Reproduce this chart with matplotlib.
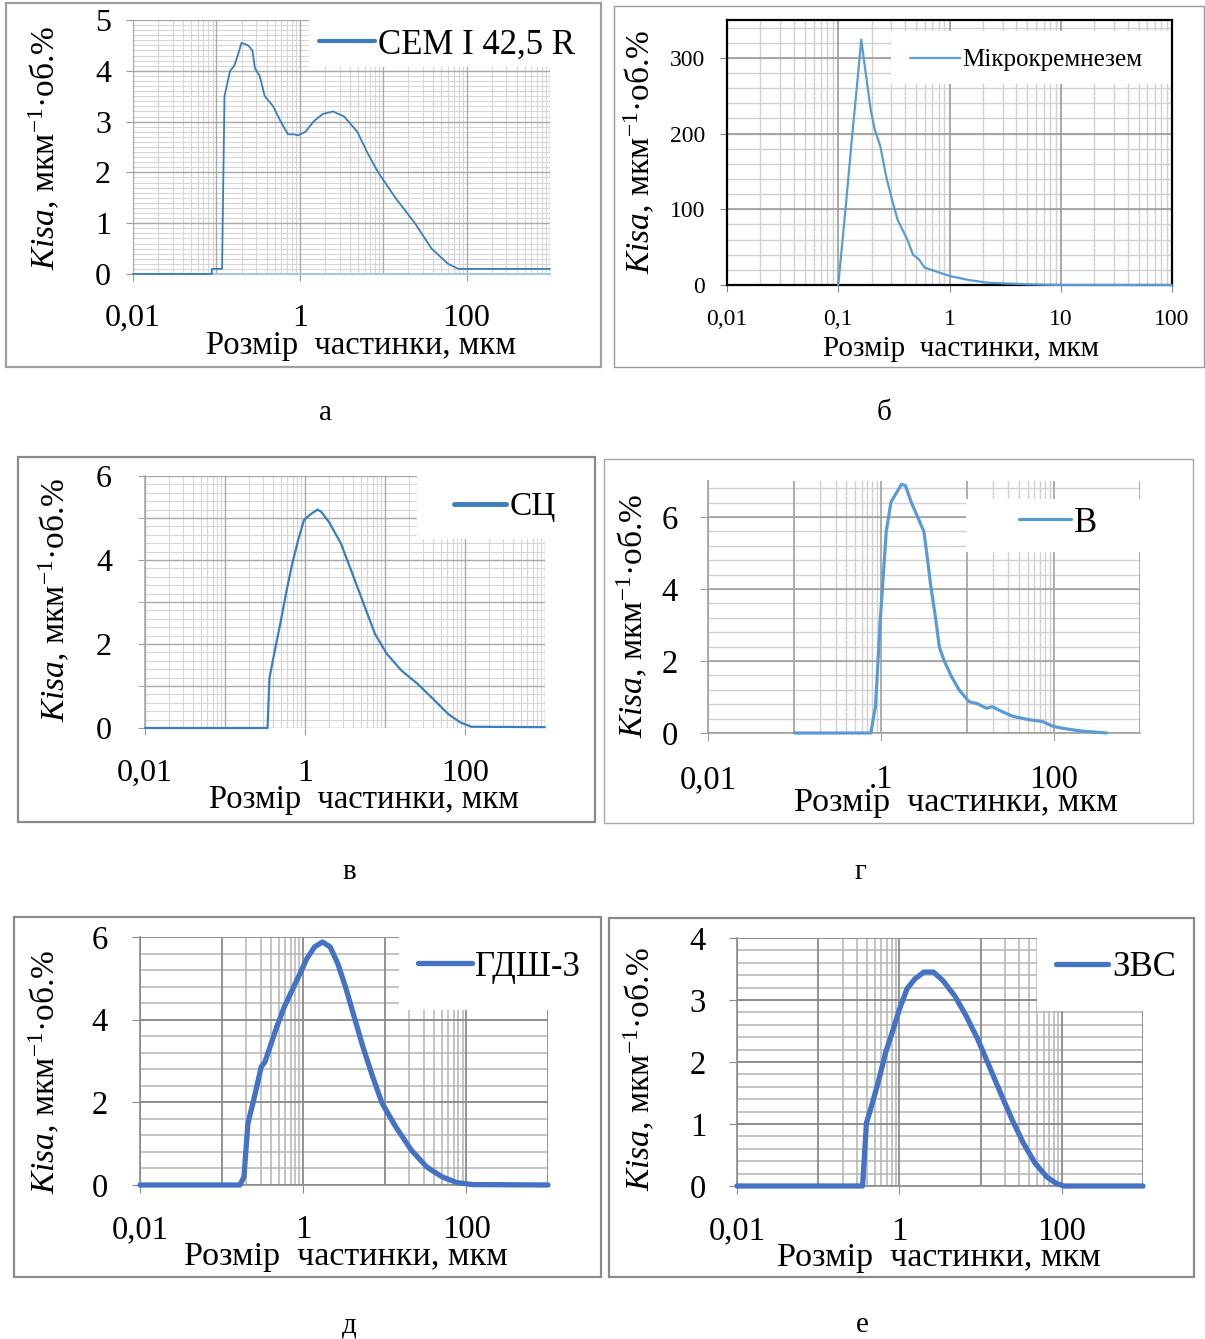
import matplotlib
matplotlib.use('Agg')
import matplotlib.pyplot as plt
from matplotlib.patches import Rectangle

plt.rcParams['font.family'] = ['Liberation Serif', 'DejaVu Serif']
plt.rcParams['mathtext.fontset'] = 'custom'
plt.rcParams['mathtext.rm'] = 'Liberation Serif'
plt.rcParams['mathtext.it'] = 'Liberation Serif:italic'

# ---- data (particle size, um ; Kisa, um^-1 * vol.%) ----
a_x = [0.01, 0.088, 0.088, 0.117, 0.119, 0.125, 0.146, 0.164, 0.18, 0.2, 0.24, 0.27, 0.29, 0.33, 0.38,
       0.48, 0.59, 0.72, 0.85, 0.95, 1.17, 1.46, 1.88, 2.5, 3.4, 4.9, 6.4, 8.7, 14, 24, 38, 60, 80, 110, 1000]
a_y = [0, 0, 0.1, 0.1, 1.0, 3.5, 4.0, 4.1, 4.3, 4.55, 4.5, 4.4, 4.05, 3.9, 3.5,
       3.3, 3.0, 2.75, 2.75, 2.73, 2.8, 3.0, 3.15, 3.2, 3.1, 2.8, 2.4, 2.0, 1.5, 1.0, 0.5, 0.2, 0.1, 0.1, 0.1]

b_x = [0.1, 0.117, 0.132, 0.147, 0.161, 0.174, 0.196, 0.213, 0.239, 0.27, 0.304, 0.342, 0.418, 0.47,
       0.53, 0.597, 0.79, 1.0, 1.49, 2.2, 4.9, 10, 100]
b_y = [0, 105, 190, 262, 324, 287, 231, 205, 183, 143, 113, 86, 60, 40,
       34, 23, 17, 12, 6.6, 3, 1, 0, 0]

c_x = [0.01, 0.34, 0.36, 0.42, 0.50, 0.59, 0.69, 0.82, 0.97, 1.14, 1.43, 1.59, 2.0, 2.8, 3.9, 5.4,
       7.5, 10.5, 16, 25.6, 40, 62, 87, 120, 1000]
c_y = [0, 0, 1.2, 1.85, 2.56, 3.28, 3.9, 4.47, 4.95, 5.07, 5.2, 5.15, 4.9, 4.4, 3.68, 2.96,
       2.24, 1.77, 1.37, 1.05, 0.69, 0.33, 0.135, 0.03, 0.02]

d_x = [0.1, 0.766, 0.866, 0.99, 1.155, 1.31, 1.49, 1.74, 1.93, 2.25, 2.63, 3.16, 3.5, 3.77, 4.3, 4.77,
       5.4, 6.6, 8.1, 10.5, 12.9, 16.7, 19.5, 25, 34, 52, 74, 100, 144, 218, 413]
d_y = [0, 0, 0.73, 3.2, 5.59, 6.41, 6.64, 6.91, 6.87, 6.41, 6.04, 5.59, 4.76, 4.12, 3.2, 2.38,
       2.01, 1.56, 1.19, 0.87, 0.82, 0.69, 0.73, 0.6, 0.46, 0.37, 0.32, 0.18, 0.11, 0.05, 0]

e_x = [0.01, 0.168, 0.188, 0.21, 0.247, 0.306, 0.34, 0.38, 0.473, 0.587, 0.73, 0.91, 1.11, 1.38, 1.72,
       2.14, 2.66, 3.3, 4.1, 5.4, 7.1, 9.3, 13.6, 21, 32.5, 50, 77, 120, 1000]
e_y = [0, 0, 0.2, 1.49, 2.05, 2.86, 2.98, 3.26, 3.82, 4.31, 4.71, 5.11, 5.48, 5.76, 5.88,
       5.76, 5.35, 4.79, 4.15, 3.34, 2.62, 1.97, 1.41, 0.85, 0.44, 0.2, 0.056, 0.01, 0]

f_x = [0.01, 0.352, 0.393, 0.44, 0.545, 0.676, 0.84, 1.0, 1.24, 1.55, 2.0, 2.63, 3.45, 4.78, 6.6,
       9.2, 12.7, 17.6, 24.4, 33.7, 46.8, 65, 85, 105, 1000]
f_y = [0, 0, 1.02, 1.23, 1.66, 2.15, 2.53, 2.85, 3.18, 3.34, 3.45, 3.45, 3.31, 3.07, 2.75,
       2.37, 1.94, 1.5, 1.07, 0.69, 0.37, 0.15, 0.043, 0, 0]

names = ['CEM I 42,5 R', 'Мікрокремнезем', 'СЦ', 'В', 'ГДШ-3', 'ЗВС']
letters = ['а', 'б', 'в', 'г', 'д', 'е']
xlab = 'Розмір  частинки, мкм'
ylab = r'$Kisa$, мкм$^{-1}$·об.%'

W, H = 1205, 1339
fig = plt.figure(figsize=(W / 100, H / 100), dpi=100)
fig.patch.set_facecolor('white')


def fx(px):
    return px / W


def fy(py):
    return 1 - py / H


def frame(l, t, r, b, color, lw):
    fig.patches.append(Rectangle((fx(l), fy(b)), (r - l) / W, (b - t) / H, transform=fig.transFigure,
                                 fill=False, edgecolor=color, linewidth=lw, zorder=0))


def panel(p):
    l, t, r, b = p['box']
    ax = fig.add_axes([fx(l), fy(b), (r - l) / W, (b - t) / H])
    ax.set_xscale('log')
    ax.set_xlim(p['xlim'])
    ax.set_ylim(0, p['ymax'])
    # grid
    for d in p['minor_dec']:
        for k in range(2, 10):
            ax.axvline(k * d, color=p['gmin'], lw=p['glw'], zorder=1)
    y = 0.0
    while y <= p['ymax'] + 1e-9:
        ax.axhline(y, color=p['gmin'], lw=p['glw'], zorder=1)
        y += p['ymin_step']
    dec = p['xlim'][0]
    while dec <= p['xlim'][1] * 1.0001:
        ax.axvline(dec, color=p['gmaj'], lw=p['glw'] * 1.2, zorder=1.1)
        dec *= 10
    y = 0.0
    while y <= p['ymax'] + 1e-9:
        ax.axhline(y, color=p['gmaj'], lw=p['glw'] * 1.2, zorder=1.1)
        y += p['ymaj_step']
    # white area behind the legend
    wx0, wx1, wy0, wy1 = p['white']
    ax.add_patch(Rectangle((wx0, wy0), wx1 - wx0, wy1 - wy0, facecolor='white', edgecolor='none', zorder=1.5))
    # curve
    ax.plot(p['x'], p['y'], color=p['color'], lw=p['lw'], zorder=3, label=p['name'],
            solid_joinstyle='round', solid_capstyle='round', clip_on=False)
    # ticks
    ax.set_xticks(p['xt'])
    ax.set_xticklabels(p['xtl'])
    ax.xaxis.set_minor_locator(matplotlib.ticker.NullLocator())
    ax.set_yticks(p['yt'])
    ax.set_yticklabels([str(v) for v in p['yt']])
    if p.get('yminor'):
        ax.set_yticks(p['yminor'], minor=True)
    ax.tick_params(axis='x', which='both', direction='out', length=p['tl'] * 0.72, color=p['tc'],
                   pad=(p['xgap'] - p['tl']) * 0.72, labelsize=p['ts'])
    ax.tick_params(axis='y', which='both', direction='out', length=p['tl'] * 0.72, color=p['tc'],
                   pad=(p['ygap'] - p['tl']) * 0.72, labelsize=p['ts'])
    for s in ['top', 'right', 'left', 'bottom']:
        ax.spines[s].set_visible(s in p['spines'])
        ax.spines[s].set_color(p['sc'])
        ax.spines[s].set_linewidth(p['slw'])
        ax.spines[s].set_zorder(2)
    ax.patch.set_alpha(0)
    # legend
    cx, cy = p['leg']
    leg = ax.legend(loc='center', bbox_to_anchor=(fx(cx), fy(cy)), bbox_transform=fig.transFigure,
                    frameon=False, fontsize=p['lfs'], handlelength=p['hl'], handletextpad=0.1,
                    borderpad=0, borderaxespad=0)
    leg.get_lines()[0].set_linewidth(p['llw'])
    # labels
    fig.text(fx(p['xl'][0]), fy(p['xl'][1]), xlab, ha='center', va='center', fontsize=p['xfs'])
    fig.text(fx(p['yl'][0]), fy(p['yl'][1]), ylab, ha='center', va='center', rotation=90, fontsize=24)
    fig.text(fx(p['let'][0]), fy(p['let'][1]), p['letter'], ha='center', va='center', fontsize=21)
    return ax


panels = [
    dict(box=(133, 20, 550, 274), xlim=(0.01, 1000), ymax=5, x=a_x, y=a_y, name=names[0], letter=letters[0],
         minor_dec=[0.01, 0.1, 1, 10, 100], ymin_step=0.1, ymaj_step=1, gmin='#d6d6d6', gmaj='#a8a8a8', glw=0.8,
         white=(1.3, 1000, 4.07, 5.0), color='#3b7dbd', lw=1.3, llw=3.0, lfs=25, hl=1.6,
         xt=[0.01, 1, 100], xtl=['0,01', '1', '100'], yt=[0, 1, 2, 3, 4, 5], tl=7, tc='#999999',
         xgap=30, ygap=22, ts=23, spines=['bottom'], sc='#a9c6e0', slw=1.5,
         leg=(447, 45), xl=(361, 346), xfs=23.5, yl=(45, 148), let=(325, 413)),
    dict(box=(727, 20, 1172, 285), xlim=(0.01, 100), ymax=350, x=b_x, y=b_y, name=names[1], letter=letters[1],
         minor_dec=[0.01, 0.1, 1, 10], ymin_step=20, ymaj_step=100, gmin='#d0d0d0', gmaj='#9a9a9a', glw=1.0,
         white=(0.3, 100, 266, 335), color='#5b9bd5', lw=1.6, llw=1.6, lfs=18, hl=2.0,
         xt=[0.01, 0.1, 1, 10, 100], xtl=['0,01', '0,1', '1', '10', '100'], yt=[0, 100, 200, 300], tl=7,
         tc='#888888', xgap=24, ygap=22, ts=17, spines=['bottom', 'left', 'top', 'right'], sc='black', slw=1.6,
         leg=(1026, 60), xl=(961, 349), xfs=21, yl=(640, 152), let=(884, 413)),
    dict(box=(145, 476, 545, 728), xlim=(0.01, 1000), ymax=6, x=c_x, y=c_y, name=names[2], letter=letters[2],
         minor_dec=[0.01, 0.1, 1, 10, 100], ymin_step=0.2, ymaj_step=1, gmin='#d6d6d6', gmaj='#a8a8a8', glw=0.8,
         white=(25, 1000, 4.5, 6.0), color='#3b7dbd', lw=1.6, llw=3.5, lfs=24, hl=1.55,
         xt=[0.01, 1, 100], xtl=['0,01', '1', '100'], yt=[0, 2, 4, 6], yminor=[1, 3, 5], tl=7, tc='#999999',
         xgap=31, ygap=33, ts=23, spines=['left'], sc='#aaaaaa', slw=1.2,
         leg=(505, 507), xl=(364, 800), xfs=23.5, yl=(55, 600), let=(349, 872)),
    dict(box=(708, 481, 1140, 733), xlim=(0.01, 1000), ymax=7, x=d_x, y=d_y, name=names[3], letter=letters[3],
         minor_dec=[0.1, 10], ymin_step=0.4, ymaj_step=2, gmin='#d0d0d0', gmaj='#a0a0a0', glw=1.0,
         white=(9.8, 1000, 5.04, 6.5), color='#5b9bd5', lw=2.3, llw=2.3, lfs=25, hl=1.5,
         xt=[0.01, 1, 100], xtl=['0,01', '.1', '100'], yt=[0, 2, 4, 6], tl=8, tc='#a0a0a0',
         xgap=32, ygap=30, ts=23.5, spines=['left', 'bottom'], sc='#a0a0a0', slw=1.2,
         leg=(1058, 523), xl=(956, 803), xfs=24.5, yl=(633, 616), let=(860, 872)),
    dict(box=(140, 937, 548, 1185), xlim=(0.01, 1000), ymax=6, x=e_x, y=e_y, name=names[4], letter=letters[4],
         minor_dec=[0.1, 10], ymin_step=0.4, ymaj_step=2, gmin='#b4b4b4', gmaj='#8c8c8c', glw=1.1,
         white=(15, 1000, 4.23, 6.0), color='#4472c4', lw=3.8, llw=3.8, lfs=25, hl=1.55,
         xt=[0.01, 1, 100], xtl=['0,01', '1', '100'], yt=[0, 2, 4, 6], tl=8, tc='#8c8c8c',
         xgap=30, ygap=32, ts=23.5, spines=['left', 'bottom'], sc='#8c8c8c', slw=1.2,
         leg=(499, 967), xl=(346, 1257), xfs=24.5, yl=(45, 1072), let=(349, 1325)),
    dict(box=(737, 938, 1143, 1186), xlim=(0.01, 1000), ymax=4, x=f_x, y=f_y, name=names[5], letter=letters[5],
         minor_dec=[0.1, 10], ymin_step=0.2, ymaj_step=1, gmin='#b4b4b4', gmaj='#8c8c8c', glw=1.1,
         white=(49, 1000, 2.83, 4.0), color='#4472c4', lw=3.8, llw=3.8, lfs=25, hl=1.5,
         xt=[0.01, 1, 100], xtl=['0,01', '1', '100'], yt=[0, 1, 2, 3, 4], tl=8, tc='#8c8c8c',
         xgap=30, ygap=31, ts=23.5, spines=['left', 'bottom'], sc='#8c8c8c', slw=1.2,
         leg=(1116, 968), xl=(939, 1258), xfs=24.5, yl=(640, 1069), let=(862, 1325)),
]

frame(6, 3, 601, 367, '#a0a0a0', 1.6)
frame(614, 6, 1204, 367, '#9a9a9a', 1.0)
frame(18, 457, 595, 822, '#8a8a8a', 1.6)
frame(604, 459, 1193, 823, '#a8a8a8', 1.0)
frame(14, 917, 601, 1277, '#8a8a8a', 1.6)
frame(609, 918, 1194, 1277, '#8a8a8a', 1.6)

for p in panels:
    panel(p)

fig.savefig('out.png', dpi=100, facecolor='white')
